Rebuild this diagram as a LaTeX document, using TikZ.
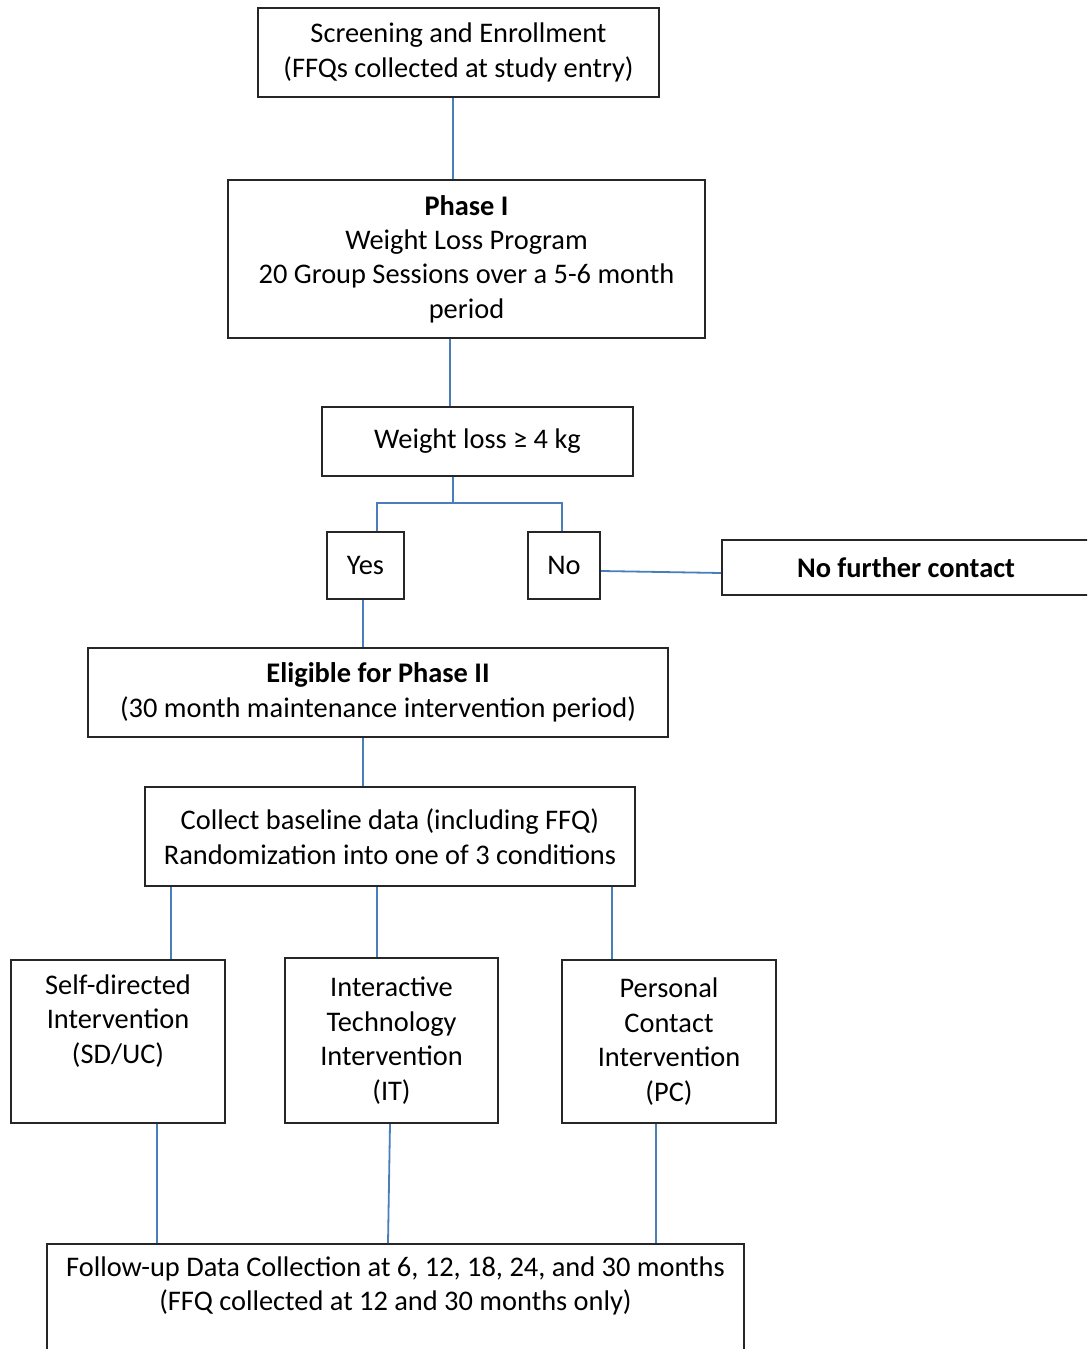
\documentclass[tikz,border=0pt]{standalone}
\usepackage{fontspec}
\setmainfont{Carlito}
\usepackage{xcolor}
\usepackage{tikz}
\definecolor{linkblue}{RGB}{74,126,187}

\begin{document}
\begin{tikzpicture}[x=0.25mm,y=-0.25mm,
  box/.style={draw=black!85,line width=0.5mm,align=center,inner sep=0pt,
    font=\fontsize{20.2}{24.5}\selectfont},
  link/.style={draw=linkblue,line width=0.45mm}]
\useasboundingbox (0,0) rectangle (1087,1349);
\clip (0,0) rectangle (1087,1349);
\node[box,minimum width=100.25mm,minimum height=22.25mm] (scr) at (458.5,52.5) {Screening and Enrollment\\(FFQs collected at study entry)};
\node[box,minimum width=119.25mm,minimum height=39.5mm] (ph1) at (466.5,259) {\textbf{Phase I}\\Weight Loss Program\\20 Group Sessions over a 5-6 month\\period};
\node[box,minimum width=77.75mm,minimum height=17.25mm] (wl) at (477.5,441.5) {Weight loss ≥ 4 kg};
\node[box,minimum width=19.25mm,minimum height=16.75mm] (yes) at (365.5,565.5) {Yes};
\node[box,minimum width=18mm,minimum height=16.75mm] (no) at (564,565.5) {No};
\node[box,minimum width=92mm,minimum height=13.75mm] (nfc) at (906,567.5) {\textbf{No further contact}};
\node[box,minimum width=145mm,minimum height=22.25mm] (elig) at (378,692.5) {\textbf{Eligible for Phase II}\\(30 month maintenance intervention period)};
\node[box,minimum width=122.5mm,minimum height=24.75mm] (coll) at (390,836.5) {Collect baseline data (including FFQ)\\Randomization into one of 3 conditions};
\node[box,minimum width=53.5mm,minimum height=40.75mm] (sd) at (118,1041.5) {Self-directed\\Intervention\\(SD/UC)\\\strut};
\node[box,minimum width=53.25mm,minimum height=41.25mm] (it) at (391.5,1040.5) {Interactive\\Technology\\Intervention\\(IT)};
\node[box,minimum width=53.5mm,minimum height=40.75mm] (pc) at (669,1041.5) {Personal\\Contact\\Intervention\\(PC)};
\node[box,minimum width=174.25mm,minimum height=39.5mm,anchor=north] (fu) at (395.5,1243) {Follow-up Data Collection at 6, 12, 18, 24, and 30 months\\(FFQ collected at 12 and 30 months only)\\\strut\\\strut};
% connectors
\draw[link] (scr.south -| 453,0) -- (ph1.north -| 453,0);
\draw[link] (ph1.south -| 450,0) -- (wl.north -| 450,0);
\draw[link] (wl.south -| 453,0) -- (453,503);
\draw[link] (yes.north -| 377,0) -- (377,503) -- (562,503) -- (no.north -| 562,0);
\draw[link] (no.east |- 0,571) -- (nfc.west |- 0,573);
\draw[link] (yes.south -| 363,0) -- (elig.north -| 363,0);
\draw[link] (elig.south -| 363,0) -- (coll.north -| 363,0);
\foreach \n/\x in {sd/171,it/377,pc/612}
  \draw[link] (coll.south -| \x,0) -- (\n.north -| \x,0);
\draw[link] (sd.south -| 157,0) -- (fu.north -| 157,0);
\draw[link] (it.south -| 390,0) -- (fu.north -| 388,0);
\draw[link] (pc.south -| 656,0) -- (fu.north -| 656,0);
\end{tikzpicture}
\end{document}
